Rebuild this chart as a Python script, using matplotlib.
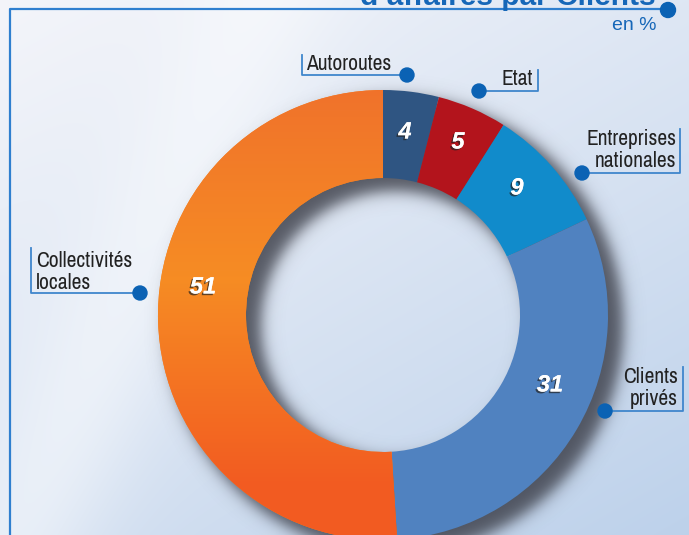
import numpy as np
import matplotlib
matplotlib.use("Agg")
import matplotlib.pyplot as plt
import matplotlib.patheffects as pe
from matplotlib import font_manager as fm

# ---------------- data ----------------
categories = ["Autoroutes", "Etat", "Entreprises\nnationales", "Clients\nprivés", "Collectivités\nlocales"]
values = [4, 5, 9, 31, 51]
value_labels = ["4", "5", "9", "31", "51"]
colors = ["#2f5582", "#b3141c", "#118bcb", "#5082c0", "#f5821f"]
title = "d\u2019affaires par Clients"
unit = "en %"

# ---------------- layout ----------------
W, H = 689, 535
CX, CY, R, RIN = 383, 315, 225, 137

# look for a condensed sans
label_font = dict(family="Liberation Sans", fontsize=13.5)
for f in fm.fontManager.ttflist:
    if ("Narrow" in f.name or "Condensed" in f.name) and f.style == "normal" and f.weight in (400, "normal", "regular"):
        label_font = dict(family=f.name, fontsize=15.5)
        break
else:
    for f in fm.fontManager.ttflist:
        if str(f.stretch) in ("condensed", "semi-condensed") and f.style == "normal" and f.weight in (400, "normal"):
            label_font = dict(family=f.name, fontstretch=str(f.stretch), fontsize=15)
            break

fig = plt.figure(figsize=(W / 100, H / 100), dpi=100)
ax = fig.add_axes([0, 0, 1, 1])

# background gradient
yy, xx = np.mgrid[0:H, 0:W]
t = np.clip((xx / W * 0.55 + yy / H * 0.75) / 1.3, 0, 1)
c0 = np.array([0.955, 0.96, 0.98])
c1 = np.array([0.74, 0.82, 0.92])
bg = c0 + (c1 - c0) * t[..., None] ** 1.1
d = (xx * 0.92 + yy * 0.42)
band = np.exp(-((d - 240) / 75.0) ** 2) * 0.45
bg = bg + (1 - bg) * band[..., None]
ax.imshow(bg, extent=(0, W, H, 0), zorder=0, interpolation="bilinear")

# drop shadow of ring
sx, sy = CX + 12, CY + 10
dist = np.hypot(xx - sx, yy - sy)
s = 9.0
cov = 0.5 * (1 + np.tanh((R + 3 - dist) / s)) * 0.5 * (1 + np.tanh((dist - RIN + 3) / s))
sh = np.zeros((H, W, 4))
sh[..., 0] = 0.20
sh[..., 1] = 0.21
sh[..., 2] = 0.25
sh[..., 3] = cov * 0.8
ax.imshow(sh, extent=(0, W, H, 0), zorder=1, interpolation="bilinear")

# donut
wedges, _ = ax.pie(values, colors=colors, startangle=-90, counterclock=True,
                   center=(CX, CY), radius=R,
                   wedgeprops=dict(width=R - RIN, linewidth=0))
for w in wedges:
    w.set_zorder(2)

# orange gradient on the biggest slice
ty = yy / H
top = np.array([0.94, 0.44, 0.17])
mid = np.array([0.965, 0.55, 0.14])
bot = np.array([0.95, 0.36, 0.13])
wmid = np.clip(1 - np.abs(ty - 0.52) / 0.38, 0, 1)
og = np.where((ty < 0.52)[..., None], top + (mid - top) * wmid[..., None],
              bot + (mid - bot) * wmid[..., None])
im = ax.imshow(og, extent=(0, W, H, 0), zorder=3, interpolation="bilinear")
im.set_clip_path(wedges[4])

ax.set_xlim(0, W)
ax.set_ylim(H, 0)
ax.set_aspect("auto")
ax.axis("off")

# value labels
val_pos = [(405, 132), (458, 142), (517, 188), (550, 385), (203, 287)]
for (x, y), lab in zip(val_pos, value_labels):
    ax.text(x, y, lab, color="white", fontsize=17, fontweight="bold", fontstyle="italic",
            family="Liberation Sans", ha="center", va="center", zorder=6,
            path_effects=[pe.withSimplePatchShadow(offset=(-1.2, -1.2), shadow_rgbFace="#222222", alpha=0.7),
                          pe.Normal()])

# callouts
LINE = "#3f86cc"
DOT = "#0b62b4"
TXT = "#222222"

def dot(x, y, r=7):
    ax.add_patch(plt.Circle((x, y), r, color=DOT, zorder=8, clip_on=False))

# Autoroutes
ax.plot([302, 302, 407], [55, 75, 75], color=LINE, lw=1.3, zorder=7)
dot(407, 75)
ax.text(306, 70, categories[0], color=TXT, ha="left", va="baseline", zorder=7, **label_font)
# Etat
ax.plot([479, 538, 538], [91, 91, 70], color=LINE, lw=1.3, zorder=7)
dot(479, 91)
ax.text(533, 85, categories[1], color=TXT, ha="right", va="baseline", zorder=7, **label_font)
# Entreprises nationales
ax.plot([582, 680, 680], [173, 173, 129], color=LINE, lw=1.3, zorder=7)
dot(582, 173)
ax.text(676, 167, categories[2], color=TXT, ha="right", va="baseline",
        linespacing=1.15, multialignment="right", zorder=7, **label_font)
# Clients privés
ax.plot([605, 683, 683], [411, 411, 367], color=LINE, lw=1.3, zorder=7)
dot(605, 411)
ax.text(678, 405, categories[3], color=TXT, ha="right", va="baseline",
        linespacing=1.15, multialignment="right", zorder=7, **label_font)
# Collectivités locales
ax.plot([31, 31, 140], [248, 293, 293], color=LINE, lw=1.3, zorder=7)
dot(140, 293)
ax.text(36, 289, categories[4], color=TXT, ha="left", va="baseline",
        linespacing=1.15, multialignment="left", zorder=7, **label_font)

# frame + title
ax.plot([9.5, 9.5, 668], [H, 9, 9], color="#2f7fcf", lw=1.6, zorder=7, clip_on=False)
dot(668, 10, 7.5)
ax.text(656, 5, title, family="Liberation Sans", fontweight="bold", fontsize=21.5, color="#1667b8",
        ha="right", va="baseline", zorder=7)
ax.text(657, 26, unit, family="Liberation Sans", fontsize=14, color="#1667b8",
        ha="right", va="center", zorder=7)

fig.savefig("out.png", dpi=100)
